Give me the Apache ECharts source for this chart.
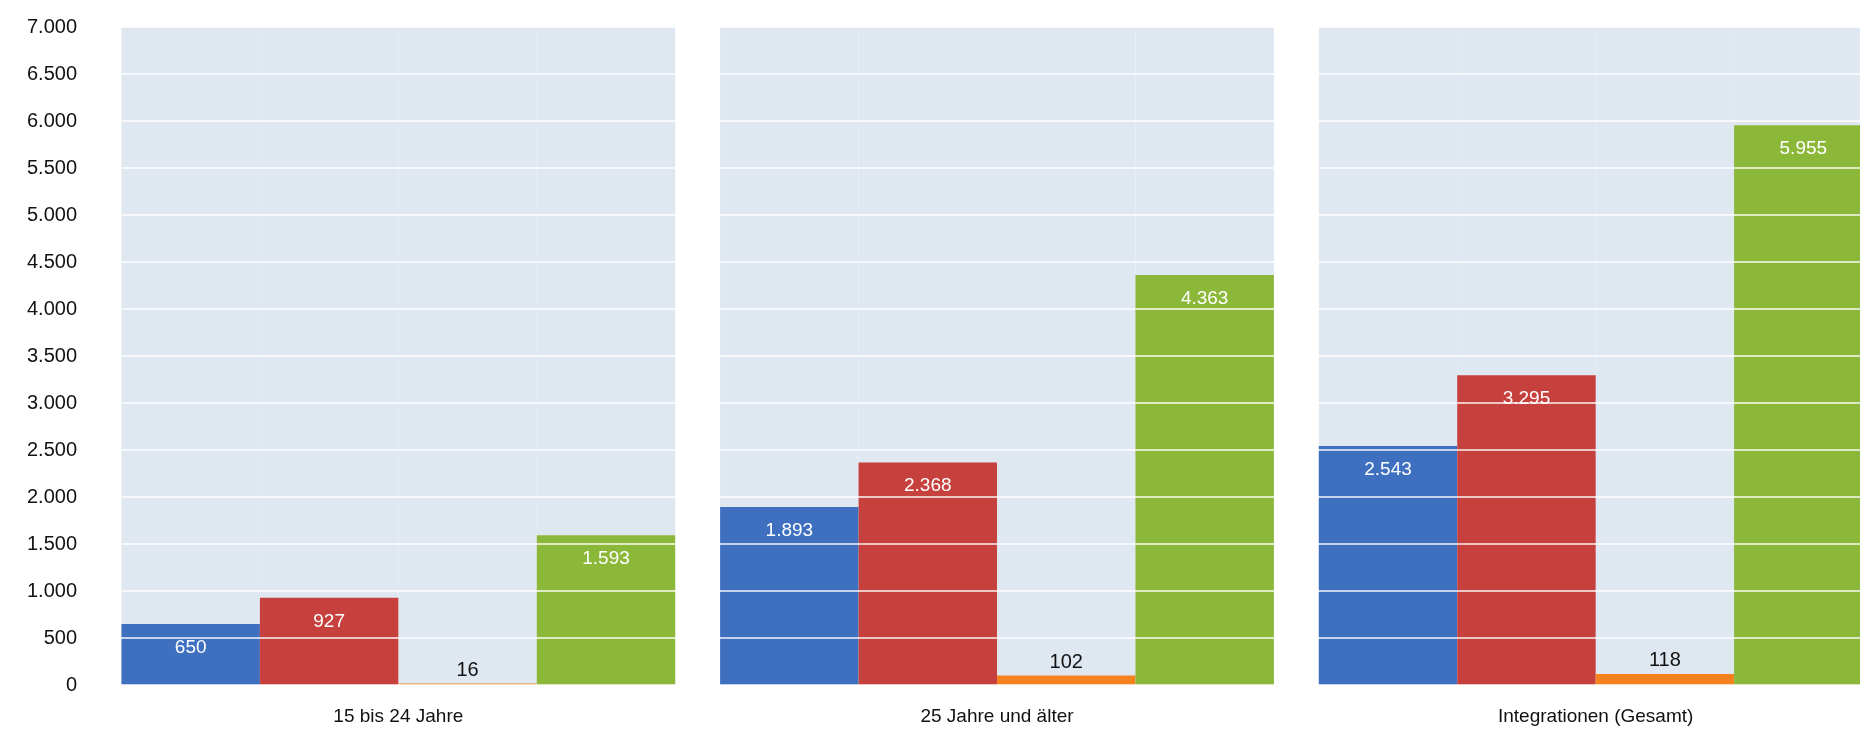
<!DOCTYPE html>
<html>
<head>
<meta charset="utf-8">
<script src="https://cdn.jsdelivr.net/npm/echarts@6/dist/echarts.min.js"></script>
<style>
  html, body { margin: 0; padding: 0; background: #fff; }
  #chart { width: 1860px; height: 729px; }
</style>
</head>
<body>
<div id="chart"></div>
<script>
const categories = ['15 bis 24 Jahre', '25 Jahre und älter', 'Integrationen (Gesamt)'];
const blueValues = [650, 1893, 2543];
const redValues = [927, 2368, 3295];
const orangeValues = [16, 102, 118];
const greenValues = [1593, 4363, 5955];
const yMax = 7000;
const yStep = 500;

// Tausenderpunkt wie im Original (7.000)
const fmt = (v) => String(Math.round(v)).replace(/\B(?=(\d{3})+(?!\d))/g, '.');

const font = 'Liberation Sans, Arial, sans-serif';
const panel = '#dfe7f1';

function barSeries(name, data, color, dark) {
  return {
    name,
    type: 'bar',
    data,
    barGap: '0%',
    barCategoryGap: '7.5%',
    showBackground: true,
    backgroundStyle: { color: panel },
    itemStyle: { color },
    label: dark
      ? { show: true, position: 'top', distance: 3, color: '#111', fontSize: 20, fontFamily: font, formatter: (p) => fmt(p.value) }
      : { show: true, position: 'insideTop', distance: 14, color: '#fff', fontSize: 19, fontFamily: font, formatter: (p) => fmt(p.value) },
  };
}

const chart = echarts.init(document.getElementById('chart'));
chart.setOption({
  animation: false,
  // rechts bewusst über den Rand hinaus: das Original ist dort abgeschnitten
  grid: { left: 99, top: 27, width: 1796, bottom: 44, outerBoundsMode: 'none' },
  xAxis: {
    type: 'category',
    data: categories,
    axisLine: { show: false },
    axisTick: { show: false },
    axisLabel: { color: '#111', fontSize: 19, fontFamily: font, margin: 22 },
  },
  yAxis: {
    type: 'value',
    min: 0,
    max: yMax,
    interval: yStep,
    z: 10,
    axisLine: { show: false },
    axisTick: { show: false },
    axisLabel: { color: '#111', fontSize: 20, fontFamily: font, margin: 22, formatter: fmt },
    splitLine: { lineStyle: { color: 'rgba(255,255,255,0.7)', width: 2 } },
  },
  series: [
    barSeries('blau', blueValues, '#3f70c0', false),
    barSeries('rot', redValues, '#c6403e', false),
    barSeries('orange', orangeValues, '#f5821f', true),
    barSeries('grün', greenValues, '#8cb83a', false),
  ],
});
</script>
</body>
</html>
